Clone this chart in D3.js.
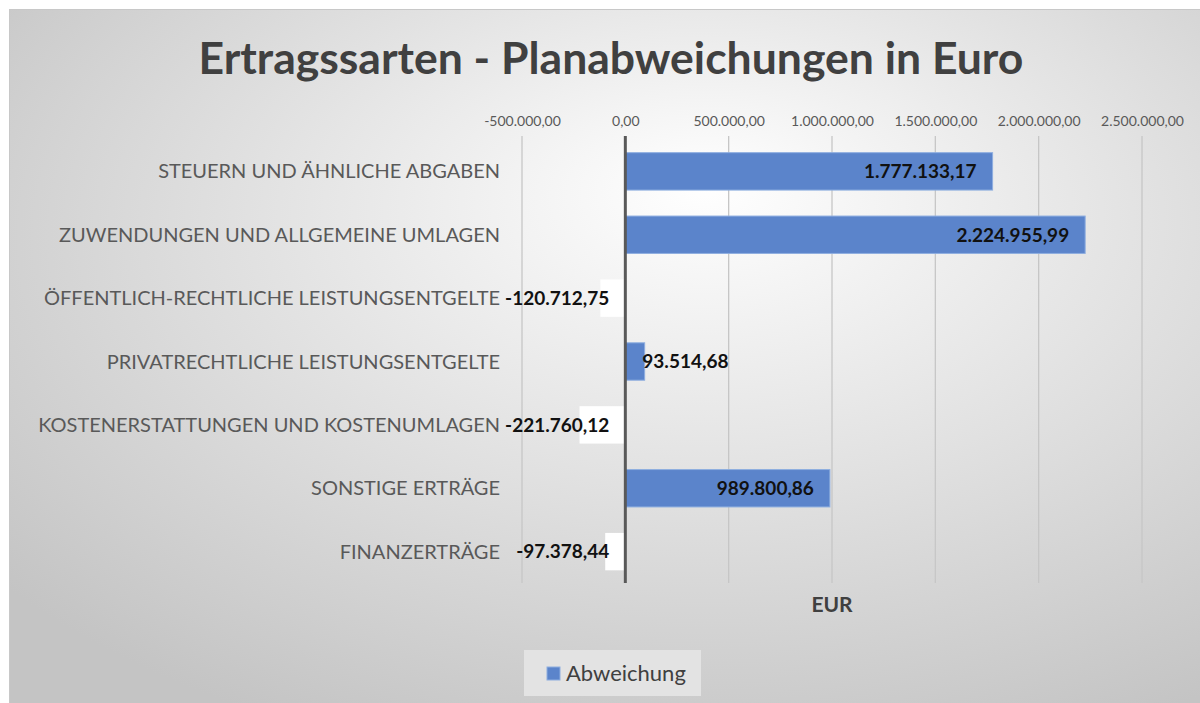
<!DOCTYPE html>
<html>
<head>
<meta charset="utf-8">
<script src="https://cdn.jsdelivr.net/npm/d3@7"></script>
<style>
  body { margin: 0; background: #fff; }
  svg { display: block; }
</style>
</head>
<body>
<div id="chart"></div>
<script>
// data
const categories = [
  "STEUERN UND ÄHNLICHE ABGABEN",
  "ZUWENDUNGEN UND ALLGEMEINE UMLAGEN",
  "ÖFFENTLICH-RECHTLICHE LEISTUNGSENTGELTE",
  "PRIVATRECHTLICHE LEISTUNGSENTGELTE",
  "KOSTENERSTATTUNGEN UND KOSTENUMLAGEN",
  "SONSTIGE ERTRÄGE",
  "FINANZERTRÄGE"
];
const abweichung = [1777133.17, 2224955.99, -120712.75, 93514.68, -221760.12, 989800.86, -97378.44];
const tickValues = [-500000, 0, 500000, 1000000, 1500000, 2000000, 2500000];

const data = categories.map((c, i) => ({ cat: c, value: abweichung[i] }));

const width = 1200, height = 703;
const font = "Lato, 'Open Sans', sans-serif";

const de = d3.formatLocale({ decimal: ",", thousands: ".", grouping: [3], currency: ["", "€"], minus: "-" });
const fmt = de.format(",.2f");

const svg = d3.select("#chart")
  .append("svg")
  .attr("width", width)
  .attr("height", height);

const defs = svg.append("defs");
const grad = defs.append("radialGradient")
  .attr("id", "bg")
  .attr("cx", "58%").attr("cy", "35%").attr("r", "75%")
  .attr("fx", "58%").attr("fy", "25%");
grad.append("stop").attr("offset", "0%").attr("stop-color", "#ffffff");
grad.append("stop").attr("offset", "100%").attr("stop-color", "#c4c4c4");

svg.append("rect")
  .attr("x", 9.5).attr("y", 9.5)
  .attr("width", width).attr("height", height)
  .attr("fill", "url(#bg)")
  .attr("stroke", "#c8c8c8");

// scales
const x = d3.scaleLinear()
  .domain([-500000, 2500000])
  .range([522, 1142]);

const y = d3.scaleBand()
  .domain(categories)
  .range([140, 583])
  .paddingInner(0.41)
  .paddingOuter(0.2);

// title
svg.append("text")
  .attr("x", 611)
  .attr("y", 74)
  .attr("text-anchor", "middle")
  .style("font-family", font)
  .style("font-weight", "bold")
  .style("font-size", "44.5px")
  .attr("fill", "#404040")
  .text("Ertragssarten - Planabweichungen in Euro");

// gridlines
svg.append("g")
  .selectAll("line")
  .data(tickValues.filter(d => d !== 0))
  .join("line")
  .attr("x1", d => x(d)).attr("x2", d => x(d))
  .attr("y1", 136).attr("y2", 583)
  .attr("stroke", "#c6c6c6")
  .attr("stroke-width", 1.3);

// top axis labels
const axis = svg.append("g")
  .attr("transform", "translate(0,126)")
  .call(d3.axisTop(x).tickValues(tickValues).tickFormat(fmt).tickSize(0).tickPadding(0));
axis.select(".domain").remove();
axis.selectAll("text")
  .style("font-family", font)
  .style("font-size", "14px")
  .attr("fill", "#595959");

// bars
svg.append("g")
  .selectAll("rect")
  .data(data)
  .join("rect")
  .attr("x", d => x(Math.min(0, d.value)))
  .attr("y", d => y(d.cat))
  .attr("width", d => Math.abs(x(d.value) - x(0)))
  .attr("height", y.bandwidth())
  .attr("fill", d => d.value < 0 ? "#ffffff" : "#5b84cb")
  .attr("stroke", d => d.value < 0 ? "none" : "#8eaee0")
  .attr("stroke-width", 1);

// zero line
svg.append("line")
  .attr("x1", x(0)).attr("x2", x(0))
  .attr("y1", 136).attr("y2", 583)
  .attr("stroke", "#595959")
  .attr("stroke-width", 3);

// category labels
svg.append("g")
  .selectAll("text")
  .data(categories)
  .join("text")
  .attr("x", 500)
  .attr("y", d => y(d) + y.bandwidth() / 2)
  .attr("dy", "0.35em")
  .attr("text-anchor", "end")
  .style("font-family", font)
  .style("font-size", "20px")
  .attr("fill", "#595959")
  .text(d => d);

// data labels
const labels = svg.append("g")
  .selectAll("text")
  .data(data)
  .join("text")
  .attr("y", d => y(d.cat) + y.bandwidth() / 2)
  .attr("dy", "0.36em")
  .attr("text-anchor", "start")
  .style("font-family", font)
  .style("font-weight", "bold")
  .style("font-size", "19px")
  .attr("fill", "#111")
  .text(d => fmt(d.value));

labels.each(function(d) {
  const w = this.getComputedTextLength();
  let start;
  if (d.value >= 0) {
    start = Math.max(x(d.value) - 16 - w, x(0) + 17);
  } else {
    start = x(0) - 16 - w;
  }
  d3.select(this).attr("x", start);
});

// axis title
svg.append("text")
  .attr("x", 832)
  .attr("y", 612)
  .attr("text-anchor", "middle")
  .style("font-family", font)
  .style("font-weight", "bold")
  .style("font-size", "21px")
  .attr("fill", "#404040")
  .text("EUR");

// legend
const legend = svg.append("g");
legend.append("rect")
  .attr("x", 524).attr("y", 650)
  .attr("width", 177).attr("height", 46)
  .attr("fill", "#e3e3e3");
legend.append("rect")
  .attr("x", 547).attr("y", 667)
  .attr("width", 13).attr("height", 13)
  .attr("fill", "#5b84cb")
  .attr("stroke", "#8eaee0");
legend.append("text")
  .attr("x", 566)
  .attr("y", 681)
  .style("font-family", font)
  .style("font-size", "22px")
  .attr("fill", "#404040")
  .text("Abweichung");
</script>
</body>
</html>
